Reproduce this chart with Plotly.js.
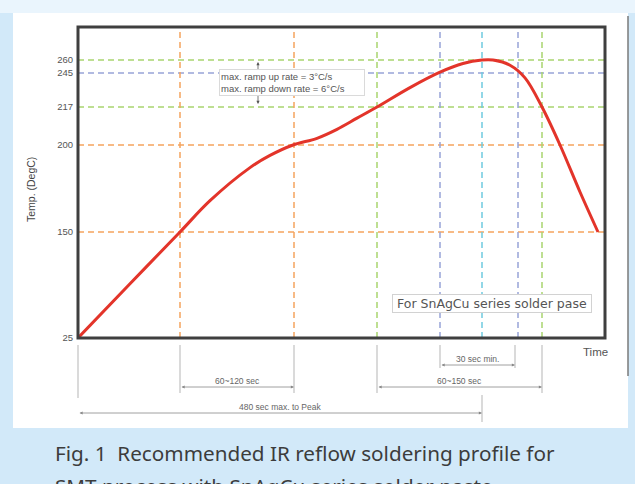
<!DOCTYPE html>
<html>
<head>
<meta charset="utf-8">
<script src="https://cdn.plot.ly/plotly-3.0.1.min.js"></script>
<style>html,body{margin:0;padding:0;background:#d2e9f9;}#chart{width:635px;height:484px;}</style>
</head>
<body>
<div id="chart"></div>
<script>
// ---- data (schematic reflow profile) ----
const profileTime = [0, 52, 102, 132, 172, 192, 215, 239, 259, 279, 299, 332, 362, 385, 404, 415, 432, 447, 464, 482, 502, 520];
const profileTemp = [25, 89, 150, 168, 187, 194, 200, 203, 207, 212, 217, 233, 246, 256, 260, 260, 254, 241, 217, 200, 173, 150];

const tempTicks = [25, 150, 200, 217, 245, 260];

const hGuideTemps = [260, 245, 217, 200, 150];
const hGuideKinds = ['green', 'blue', 'green', 'orange', 'orange'];
const vGuideTimes = [102, 216, 299, 362, 404, 440, 464];
const vGuideKinds = ['orange', 'orange', 'green', 'blue', 'cyan', 'blue', 'green'];

const spanLabels = ['60~120 sec', '30 sec min.', '60~150 sec', '480 sec max. to Peak'];
const spanStart = [102, 362, 299, 0];
const spanEnd = [216, 437, 464, 404];

// ---- layout / scale config ----
const W = 635, H = 484;
const M = {l: 78, r: 30, t: 27, b: 146};
const plotW = W - M.l - M.r, plotH = H - M.t - M.b;
const X_RANGE = [0, 527], Y_RANGE = [0, 311];
// schematic (non-linear) temperature scale: tick temperature -> axis position
const SCALE_POS = [0, 106, 193, 231, 265, 278];
function yPos(T) {
  for (let i = 0; i < tempTicks.length - 1; i++) {
    if (T <= tempTicks[i + 1] || i === tempTicks.length - 2) {
      const f = (T - tempTicks[i]) / (tempTicks[i + 1] - tempTicks[i]);
      return SCALE_POS[i] + f * (SCALE_POS[i + 1] - SCALE_POS[i]);
    }
  }
}
const COLORS = {orange: '#f5a45e', green: '#a9d56f', blue: '#98a4d8', cyan: '#6fcadf'};
const fxT = t => (t - X_RANGE[0]) / (X_RANGE[1] - X_RANGE[0]);   // time -> paper x
const fxP = p => (p - M.l) / plotW;                                // figure px -> paper x
const fyP = p => (H - M.b - p) / plotH;                            // figure px -> paper y

const traces = [];
hGuideTemps.forEach((T, i) => traces.push({
  x: X_RANGE, y: [yPos(T), yPos(T)], mode: 'lines', hoverinfo: 'skip',
  line: {color: COLORS[hGuideKinds[i]], width: 1.5, dash: '6px,4px'}
}));
vGuideTimes.forEach((t, i) => traces.push({
  x: [t, t], y: Y_RANGE, mode: 'lines', hoverinfo: 'skip',
  line: {color: COLORS[vGuideKinds[i]], width: 1.5, dash: '6px,4px'}
}));
traces.push({
  x: profileTime, y: profileTemp.map(yPos), mode: 'lines',
  line: {color: '#e3342a', width: 3, shape: 'spline', smoothing: 1}, cliponaxis: false
});

const shapes = [
  {type: 'rect', xref: 'paper', yref: 'paper', x0: fxP(-5), x1: fxP(W + 5), y0: fyP(13), y1: fyP(-5),
   fillcolor: '#eaf5fd', line: {width: 0}, layer: 'below'},
  {type: 'rect', xref: 'paper', yref: 'paper', x0: fxP(13), x1: fxP(628), y0: fyP(428), y1: fyP(13),
   fillcolor: '#ffffff', line: {width: 0}, layer: 'below'},
  {type: 'line', xref: 'paper', yref: 'paper', x0: fxP(628), x1: fxP(628), y0: fyP(16), y1: fyP(376),
   line: {color: '#7a7a7a', width: 1.5}},
  {type: 'rect', xref: 'paper', yref: 'paper', x0: 0, x1: 1, y0: 0, y1: 1,
   line: {color: '#3f3f3f', width: 3}, layer: 'above'}
];

// extension lines below the axis
const ext = [
  [spanStart[3], 345, 398], [spanStart[0], 345, 393], [spanEnd[0], 345, 393],
  [spanStart[2], 345, 393], [spanStart[1], 345, 368], [spanEnd[1], 345, 368],
  [spanEnd[2], 345, 393], [spanEnd[3], 395, 422]
];
ext.forEach(e => shapes.push({type: 'line', xref: 'paper', yref: 'paper',
  x0: fxT(e[0]), x1: fxT(e[0]), y0: fyP(e[1]), y1: fyP(e[2]), line: {color: '#b5b5b5', width: 1}}));

const smallFont = {family: 'Liberation Sans, Arial, sans-serif', size: 9.5, color: '#555'};
const C = {xanchor: 'center', yanchor: 'middle'};
const annotations = [
  Object.assign({xref: 'paper', yref: 'paper', x: fxP(31), y: fyP(190), text: 'Temp. (DegC)', textangle: -90,
   showarrow: false, font: {family: 'Liberation Sans, Arial, sans-serif', size: 10.5, color: '#444'}}, C),
  {xref: 'paper', yref: 'paper', x: fxP(258), y: fyP(62), ax: 0, ay: 9, text: '', showarrow: true,
   arrowhead: 2, arrowsize: 0.8, arrowwidth: 0.8, arrowcolor: '#555', standoff: 0},
  {xref: 'paper', yref: 'paper', x: fxP(258), y: fyP(104), ax: 0, ay: -11, text: '', showarrow: true,
   arrowhead: 2, arrowsize: 0.8, arrowwidth: 0.8, arrowcolor: '#555', standoff: 0},
  Object.assign({xref: 'paper', yref: 'paper', x: fxP(291.5), y: fyP(82), showarrow: false,
   text: 'max. ramp up rate = 3°C/s<br>max. ramp down rate = 6°C/s', align: 'left',
   font: smallFont, bgcolor: '#ffffff', bordercolor: '#dadada', borderwidth: 1, borderpad: 1, width: 142}, C),
  Object.assign({xref: 'paper', yref: 'paper', x: fxP(492), y: fyP(303.5), showarrow: false,
   text: 'For SnAgCu series solder pase',
   font: {family: 'DejaVu Sans, sans-serif', size: 12.5, color: '#555'},
   bgcolor: '#ffffff', bordercolor: '#d2d2d2', borderwidth: 1, borderpad: 1, width: 196}, C),
  Object.assign({xref: 'paper', yref: 'paper', x: fxP(595), y: fyP(352), text: 'Time', showarrow: false,
   font: {family: 'Liberation Sans, Arial, sans-serif', size: 11.5, color: '#555'}}, C),
  {xref: 'paper', yref: 'paper', x: fxP(53), y: fyP(437), xanchor: 'left', yanchor: 'top', showarrow: false,
   text: 'Fig. 1  Recommended IR reflow soldering profile for',
   font: {family: 'Noto Sans, sans-serif', size: 20.7, color: '#3c3c3c'}},
  {xref: 'paper', yref: 'paper', x: fxP(53), y: fyP(470), xanchor: 'left', yanchor: 'top', showarrow: false,
   text: 'SMT process with SnAgCu series solder paste.',
   font: {family: 'Noto Sans, sans-serif', size: 20.7, color: '#3c3c3c'}}
];
const spanRow = [387, 365, 387, 413];
spanLabels.forEach((lab, i) => {
  const x1 = fxT(spanStart[i]), x2 = fxT(spanEnd[i]);
  annotations.push({xref: 'paper', yref: 'paper', x: x2, y: fyP(spanRow[i]),
    ax: -(x2 - x1) * plotW, ay: 0, text: '', showarrow: true, arrowside: 'end+start',
    arrowhead: 2, arrowsize: 0.8, arrowwidth: 0.8, arrowcolor: '#888', standoff: 0, startstandoff: 0});
  annotations.push(Object.assign({xref: 'paper', yref: 'paper', x: (x1 + x2) / 2, y: fyP(spanRow[i] - 6),
    text: lab, showarrow: false, font: {family: 'Liberation Sans, Arial, sans-serif', size: 8.5, color: '#666'}}, C));
});

const layout = {
  width: W, height: H, margin: M, showlegend: false,
  paper_bgcolor: '#d2e9f9', plot_bgcolor: '#ffffff',
  xaxis: {range: X_RANGE, visible: false, fixedrange: true},
  yaxis: {range: Y_RANGE, tickvals: tempTicks.map(yPos), ticktext: tempTicks.map(String),
    showgrid: false, zeroline: false, showline: false, ticks: '', ticklabelstandoff: 4,
    tickfont: {family: 'Liberation Sans, Arial, sans-serif', size: 9.5, color: '#555'}, fixedrange: true},
  shapes: shapes, annotations: annotations, hovermode: false
};
Plotly.newPlot('chart', traces, layout, {displayModeBar: false, staticPlot: true});
</script>
</body>
</html>
